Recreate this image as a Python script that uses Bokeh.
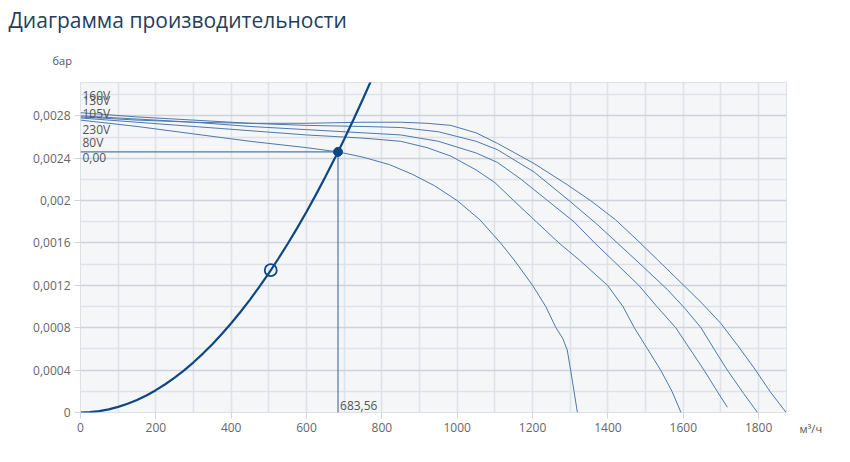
from bokeh.plotting import figure
from bokeh.models import FixedTicker, Range1d, ColumnDataSource, Title
from bokeh.core.properties import value
from bokeh.embed import file_html
from bokeh.resources import INLINE

# ---------------- data ----------------
title_text = "Диаграмма производительности"
y_unit = "бар"
x_unit = "м³/ч"

x_ticks = [0, 200, 400, 600, 800, 1000, 1200, 1400, 1600, 1800]
x_tick_labels = ["0", "200", "400", "600", "800", "1000", "1200", "1400", "1600", "1800"]
x_minor = [100, 300, 500, 700, 900, 1100, 1300, 1500, 1700]
y_ticks = [0, 0.0004, 0.0008, 0.0012, 0.0016, 0.002, 0.0024, 0.0028]
y_tick_labels = ["0", "0,0004", "0,0008", "0,0012", "0,0016", "0,002", "0,0024", "0,0028"]
y_minor = [0.0002, 0.0006, 0.001, 0.0014, 0.0018, 0.0022, 0.0026, 0.003]

# fan curves (flow m³/h, pressure bar)
curve_a_q = [0, 150, 300, 450, 600, 683.56, 750, 820, 880, 940, 1000, 1060, 1115, 1151, 1200, 1235, 1262, 1280, 1292, 1301, 1310, 1319]
curve_a_p = [0.00276, 0.00270, 0.00263, 0.00256, 0.00250, 0.00246, 0.00241, 0.00234, 0.00225, 0.00214, 0.00200, 0.00182, 0.00160, 0.00144, 0.00120, 0.00100, 0.00080, 0.00070, 0.00059, 0.00040, 0.00020, 0.0]

curve_b_q = [0, 150, 300, 450, 600, 750, 850, 920, 983, 1050, 1100, 1150, 1210, 1270, 1324, 1399, 1440, 1470, 1505, 1540, 1570, 1594]
curve_b_p = [0.00278, 0.00274, 0.00270, 0.00266, 0.00262, 0.00259, 0.00256, 0.00250, 0.00242, 0.00229, 0.00217, 0.00200, 0.00180, 0.00160, 0.00144, 0.00120, 0.00100, 0.00080, 0.00060, 0.00040, 0.00020, 0.0]

curve_c_q = [0, 150, 300, 450, 600, 750, 850, 950, 1050, 1107, 1170, 1240, 1310, 1365, 1412, 1482, 1530, 1580, 1625, 1655, 1690, 1717]
curve_c_p = [0.00280, 0.00277, 0.00274, 0.00270, 0.00267, 0.00264, 0.00262, 0.00256, 0.00245, 0.00236, 0.00220, 0.00200, 0.00180, 0.00160, 0.00144, 0.00120, 0.00100, 0.00080, 0.00056, 0.00040, 0.00020, 0.00005]

curve_d_q = [0, 150, 300, 450, 600, 750, 850, 950, 1050, 1107, 1204, 1297, 1370, 1425, 1474, 1558, 1605, 1647, 1685, 1717, 1760, 1797]
curve_d_p = [0.00283, 0.00279, 0.00276, 0.00273, 0.00271, 0.00270, 0.00269, 0.00265, 0.00256, 0.00248, 0.00227, 0.00200, 0.00178, 0.00160, 0.00144, 0.00116, 0.00098, 0.00080, 0.00058, 0.00040, 0.00018, 0.0]

curve_e_q = [0, 150, 300, 450, 600, 750, 850, 920, 983, 1050, 1107, 1204, 1292, 1354, 1420, 1480, 1532, 1607, 1650, 1700, 1745, 1788, 1830, 1873]
curve_e_p = [0.00279, 0.00276, 0.00274, 0.00273, 0.00273, 0.00274, 0.00274, 0.00273, 0.00271, 0.00264, 0.00254, 0.00235, 0.00215, 0.00200, 0.00182, 0.00162, 0.00144, 0.00118, 0.00103, 0.00084, 0.00063, 0.00042, 0.00020, 0.0]

curve_labels = ["160V", "130V", "105V", "230V", "80V"]

# system curve
system_q = [0, 25, 50, 75, 100, 125, 150, 175, 200, 225, 250, 275, 300, 325, 350, 375, 400,
            425, 450, 475, 500, 525, 550, 575, 600, 625, 650, 675, 700, 725, 750, 775, 800]
system_p = [0.0, 0.0000033, 0.0000132, 0.0000296, 0.0000527, 0.0000823, 0.0001185, 0.0001612,
            0.0002106, 0.0002665, 0.0003291, 0.0003982, 0.0004739, 0.0005561, 0.0006450, 0.0007404,
            0.0008424, 0.0009510, 0.0010662, 0.0011879, 0.0013163, 0.0014512, 0.0015927, 0.0017407,
            0.0018954, 0.0020566, 0.0022245, 0.0023989, 0.0025799, 0.0027674, 0.0029616, 0.0031623,
            0.0033696]

# operating point and reference point
op_q = 683.56
op_p = 0.00246
ref_q = 505
ref_p = 0.001343

# ---------------- figure ----------------
X_END = 1874
Y_END = 0.003115
FONT = "Open Sans"

p = figure(frame_width=706, frame_height=330,
           min_border_left=80, min_border_right=56, min_border_top=82, min_border_bottom=40,
           x_range=Range1d(0, X_END), y_range=Range1d(0, Y_END),
           output_backend="svg", toolbar_location=None, tools="")
p.background_fill_color = "#f4f6f8"
p.border_fill_color = "#ffffff"
p.outline_line_color = "#dde1e6"

p.xaxis.ticker = FixedTicker(ticks=x_ticks, minor_ticks=x_minor)
p.yaxis.ticker = FixedTicker(ticks=y_ticks, minor_ticks=y_minor)
p.xaxis.major_label_overrides = dict(zip(x_ticks, x_tick_labels))
p.yaxis.major_label_overrides = dict(zip(y_ticks, y_tick_labels))

for ax in (p.xaxis, p.yaxis):
    ax.axis_line_color = None
    ax.major_tick_line_color = "#cfd5dc"
    ax.major_tick_out = 6
    ax.major_tick_in = 0
    ax.minor_tick_line_color = None
    ax.major_label_text_color = "#666666"
    ax.major_label_text_font = FONT
    ax.major_label_text_font_size = "12px"
    ax.major_label_standoff = 4

# unit label sits to the right of the last x tick label
p.xaxis.axis_label = "\u00a0" * 17 + x_unit
p.xaxis.axis_label_align = "end"
p.xaxis.axis_label_standoff = -14
p.xaxis.axis_label_text_font = FONT
p.xaxis.axis_label_text_font_size = "11px"
p.xaxis.axis_label_text_font_style = "normal"
p.xaxis.axis_label_text_color = "#555555"

p.xgrid.grid_line_color = "#dfe3e8"
p.xgrid.minor_grid_line_color = "#dfe3e8"
p.ygrid.grid_line_color = "#cdd3da"
p.ygrid.minor_grid_line_color = "#dfe3e8"
p.xgrid.grid_line_width = 1.5
p.xgrid.minor_grid_line_width = 1.5
p.ygrid.grid_line_width = 1.5
p.ygrid.minor_grid_line_width = 1.5

fan_color = "#4d78ad"
curves = [(curve_e_q, curve_e_p), (curve_d_q, curve_d_p), (curve_c_q, curve_c_p),
          (curve_b_q, curve_b_p), (curve_a_q, curve_a_p)]
for cq, cp in curves:
    p.line(cq, cp, line_color=fan_color, line_width=1.0)

# operating point guide lines
p.line([0, op_q], [op_p, op_p], line_color="#4f78aa", line_width=1.2)
p.line([op_q, op_q], [op_p, 0], line_color="#4f78aa", line_width=1.2)

# system curve
p.line(system_q, system_p, line_color="#0d4785", line_width=2.2)

p.scatter([op_q], [op_p], size=9, fill_color="#0d4785", line_color="#0d4785")
p.scatter([ref_q], [ref_p], size=12, fill_color=None, line_color="#0d4785", line_width=1.8)

# curve labels at the start of the curves
label_src = ColumnDataSource(dict(
    x=[0] * 5,
    y=[curve_d_p[0], curve_c_p[0], curve_e_p[0], curve_b_p[0], curve_a_p[0]],
    text=curve_labels,
    dy=[-17, -15, -3, 12, 22],
))
p.text(x="x", y="y", text="text", y_offset="dy", x_offset=2, source=label_src,
       text_font=value(FONT), text_font_size="12px", text_color="#555555",
       text_baseline="middle", text_align="left")

fmt = lambda v: f"{v:.2f}".replace(".", ",")
p.text(x=[0], y=[op_p], text=[fmt(op_p)], x_offset=2, y_offset=6,
       text_font=value(FONT), text_font_size="12px", text_color="#555555",
       text_baseline="middle", text_align="left")
p.text(x=[op_q], y=[0], text=[fmt(op_q)], x_offset=2, y_offset=-7,
       text_font=value(FONT), text_font_size="12px", text_color="#555555",
       text_baseline="middle", text_align="left")

# titles / units above the plot
p.add_layout(Title(text=y_unit, align="left", offset=-28, standoff=29,
                   text_font=FONT, text_font_size="11px", text_font_style="normal",
                   text_color="#555555"), "above")
p.add_layout(Title(text=title_text, align="left", offset=-72, standoff=6,
                   text_font=FONT, text_font_size="21px", text_font_style="normal",
                   text_color="#243f5c"), "above")

open("out.html", "w").write(file_html(p, INLINE))
